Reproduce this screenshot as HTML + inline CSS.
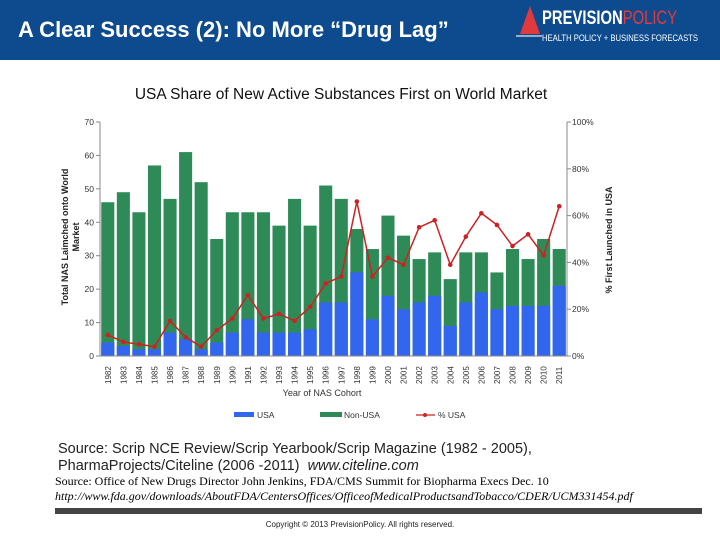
<!DOCTYPE html>
<html><head><meta charset="utf-8"><style>
body{margin:0;width:720px;height:540px;background:#fff;position:relative;overflow:hidden;font-family:"Liberation Sans",sans-serif}
.abs{position:absolute}
</style></head><body>
<div class="abs" style="left:0;top:0;width:720px;height:60px;background:#0d4b8e"></div>
<div class="abs" style="left:18px;top:17px;color:#fff;font-size:22px;font-weight:bold;white-space:nowrap">A Clear Success (2): No More “Drug Lag”</div>
<div class="abs" style="left:516px;top:6px;width:200px;height:40px">
 <svg width="30" height="34" style="position:absolute;left:0;top:0"><polygon points="14,0 24,28 4,28" fill="#e03a3e"/><line x1="0" y1="30" x2="26" y2="30" stroke="#ccc" stroke-width="1.5"/></svg>
 <div class="abs" style="left:26px;top:2px;font-size:19px;font-weight:bold;color:#fff;white-space:nowrap;transform:scaleX(0.78);transform-origin:left top">PREVISION<span style="color:#e03a3e;font-weight:normal">POLICY</span></div>
 <div class="abs" style="left:26px;top:27px;font-size:9px;color:#fff;white-space:nowrap;transform:scaleX(0.85);transform-origin:left top">HEALTH POLICY + BUSINESS FORECASTS</div>
</div>
<div class="abs" style="left:0;width:682px;text-align:center;top:86px;font-size:15.5px;color:#111">USA Share of New Active Substances First on World Market</div>
<svg class="abs" style="left:0;top:0" width="720" height="540" id="chart"></svg>
<div class="abs" style="left:58px;top:441px;font-size:14.5px;color:#222;line-height:17px;white-space:nowrap">Source: Scrip NCE Review/Scrip Yearbook/Scrip Magazine (1982 - 2005),<br>PharmaProjects/Citeline (2006 -2011) &nbsp;<i>www.citeline.com</i></div>
<div class="abs" style="left:55px;top:474px;font-family:'Liberation Serif',serif;font-size:12px;color:#000;line-height:15px;white-space:nowrap">Source: Office of New Drugs Director John Jenkins, FDA/CMS Summit for Biopharma Execs Dec. 10<br><i>http://www.fda.gov/downloads/AboutFDA/CentersOffices/OfficeofMedicalProductsandTobacco/CDER/UCM331454.pdf</i></div>
<div class="abs" style="left:55px;top:508px;width:647px;height:6px;background:#444"></div>
<div class="abs" style="left:0;width:720px;text-align:center;top:520px;font-size:8px;color:#222">Copyright © 2013 PrevisionPolicy. All rights reserved.</div>
<script>
const years=[1982,1983,1984,1985,1986,1987,1988,1989,1990,1991,1992,1993,1994,1995,1996,1997,1998,1999,2000,2001,2002,2003,2004,2005,2006,2007,2008,2009,2010,2011];
const totals=[46,49,43,57,47,61,52,35,43,43,43,39,47,39,51,47,38,32,42,36,29,31,23,31,31,25,32,29,35,32];
const usa=[4,3,2,2,7,5,2,4,7,11,7,7,7,8,16,16,25,11,18,14,16,18,9,16,19,14,15,15,15,21];
const pct=[9,6,5,4,15,8,4,11,16,26,16,18,15,21,31,34,66,34,42,39,55,58,39,51,61,56,47,52,43,64];
const leftTicks=[0,10,20,30,40,50,60,70];
const rightTicks=[0,20,40,60,80,100];
const NS='http://www.w3.org/2000/svg';
const svg=document.getElementById('chart');
const X0=100,X1=567,Y0=356,Y1=122;
const slot=(X1-X0)/years.length;
const yL=v=>Y0-(v/70)*(Y0-Y1);
const yR=v=>Y0-(v/100)*(Y0-Y1);
const xC=i=>X0+slot*(i+0.5);
function mk(t,a){const e=document.createElementNS(NS,t);for(const k in a)e.setAttribute(k,a[k]);svg.appendChild(e);return e;}
years.forEach((y,i)=>{
 const w=slot-2.5,x=xC(i)-w/2;
 const g=mk('rect',{x:x,y:yL(totals[i]),width:w,height:yL(0)-yL(totals[i]),fill:'#2e8b57'});
 
 
 const b=mk('rect',{x:x,y:yL(usa[i]),width:w,height:yL(0)-yL(usa[i]),fill:'#3366ee'});
 
 
 const t=mk('text',{x:0,y:0,transform:`translate(${xC(i)+3},${Y0+28}) rotate(-90)`,'font-size':'8','fill':'#333','font-family':'Liberation Sans'});
 t.textContent=y;
 
 
});
mk('line',{x1:X0,y1:Y1,x2:X0,y2:Y0,stroke:'#888'});
mk('line',{x1:X1,y1:Y1,x2:X1,y2:Y0,stroke:'#888'});
mk('line',{x1:X0,y1:Y0,x2:X1,y2:Y0,stroke:'#888'});
leftTicks.forEach(v=>{mk('line',{x1:X0-4,y1:yL(v),x2:X0,y2:yL(v),stroke:'#888'});
 const t=mk('text',{x:X0-6,y:yL(v)+3,'text-anchor':'end','font-size':'8.5',fill:'#333'});t.textContent=v;
 });
rightTicks.forEach(v=>{mk('line',{x1:X1,y1:yR(v),x2:X1+4,y2:yR(v),stroke:'#888'});
 const t=mk('text',{x:X1+5,y:yR(v)+3,'font-size':'8.5',fill:'#333'});t.textContent=v+'%';
 });
const line=mk('polyline',{points:pct.map((p,i)=>xC(i)+','+yR(p)).join(' '),fill:'none',stroke:'#cc2222','stroke-width':'1.5'});


pct.forEach((p,i)=>{const c=mk('circle',{cx:xC(i),cy:yR(p),r:2.3,fill:'#cc2222'});
 
 });
let t=mk('text',{transform:'translate(68,237) rotate(-90)','text-anchor':'middle','font-size':'9','font-weight':'bold',fill:'#222'});
t.innerHTML='<tspan x="0" y="0">Total NAS Laimched onto World</tspan><tspan x="0" y="11">Market</tspan>';

t=mk('text',{transform:'translate(612,240) rotate(-90)','text-anchor':'middle','font-size':'9','font-weight':'bold',fill:'#222'});
t.textContent='% First Launched in USA';

t=mk('text',{x:322,y:396,'text-anchor':'middle','font-size':'9',fill:'#333'});t.textContent='Year of NAS Cohort';

mk('rect',{x:234,y:412,width:20,height:5,fill:'#3366ee'});
t=mk('text',{x:257,y:418,'font-size':'8.5',fill:'#333'});t.textContent='USA';

mk('rect',{x:320,y:412,width:22,height:5,fill:'#2e8b57'});
t=mk('text',{x:344,y:418,'font-size':'8.5',fill:'#333'});t.textContent='Non-USA';

mk('line',{x1:416,y1:415,x2:435,y2:415,stroke:'#cc2222','stroke-width':'1.2'});
mk('circle',{cx:425,cy:415,r:2,fill:'#cc2222'});
t=mk('text',{x:438,y:418,'font-size':'8.5',fill:'#333'});t.textContent='% USA';

</script>
</body></html>
